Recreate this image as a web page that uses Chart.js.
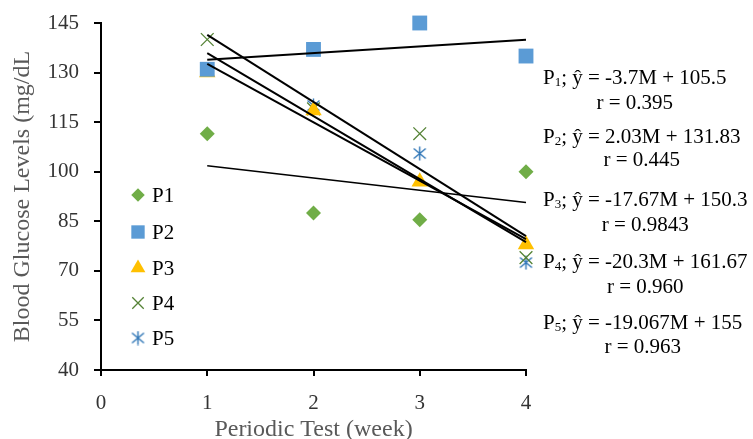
<!DOCTYPE html>
<html><head><meta charset="utf-8">
<script src="https://cdn.jsdelivr.net/npm/chart.js@4/dist/chart.umd.min.js"></script>
<style>html,body{margin:0;padding:0;background:#fff}#wrap{width:753px;height:439px}</style>
</head><body><div id="wrap"><canvas id="c" width="753" height="439"></canvas></div>
<script>
// ---- data ----
const weeks = [1, 2, 3, 4];
const seriesNames = ['P1', 'P2', 'P3', 'P4', 'P5'];
const p1 = [111.5, 87.5, 85.5, 100];
const p2 = [131, 137, 145, 135];
const p3 = [130, 118.5, 97, 78];
const p4 = [140, 119, 111.5, 74];
const p5 = [131, 120, 105.5, 72.5];
const trendWeeks = [1, 4];
const trend1 = [101.8, 90.7];
const trend2 = [133.9, 139.9];
const trend3 = [132.6, 79.6];
const trend4 = [141.4, 80.5];
const trend5 = [135.9, 78.7];
const equations = ['; ŷ = -3.7M + 105.5', '; ŷ = 2.03M + 131.83', '; ŷ = -17.67M + 150.3', '; ŷ = -20.3M + 161.67', '; ŷ = -19.067M + 155'];
const rValues = ['r = 0.395', 'r = 0.445', 'r = 0.9843', 'r = 0.960', 'r = 0.963'];
const xTickValues = [0, 1, 2, 3, 4];
const yTickValues = [40, 55, 70, 85, 100, 115, 130, 145];
const xTitle = 'Periodic Test (week)';
const yTitle = 'Blood Glucose Levels (mg/dL';

// ---- styles ----
const SERIF = '"Liberation Serif", "Times New Roman", serif';
function makeAsterisk(color) {
  const c = document.createElement('canvas'); c.width = 15; c.height = 15;
  const g = c.getContext('2d'); g.strokeStyle = color; g.lineWidth = 1.4;
  g.beginPath();
  g.moveTo(7.5, 0.5); g.lineTo(7.5, 14.5);
  g.moveTo(1.5, 2.5); g.lineTo(13.5, 12.5);
  g.moveTo(1.5, 12.5); g.lineTo(13.5, 2.5);
  g.stroke();
  return c;
}
const markerStyles = [
  {pointStyle: 'rectRot', radius: 7.5, bg: '#70AD47', border: '#70AD47', bw: 0},
  {pointStyle: 'rect', radius: 10.5, bg: '#5B9BD5', border: '#5B9BD5', bw: 0},
  {pointStyle: 'triangle', radius: 9.5, bg: '#FFC000', border: '#FFC000', bw: 0},
  {pointStyle: 'crossRot', radius: 9, bg: '#548235', border: '#548235', bw: 1.3},
  {pointStyle: makeAsterisk('#2E75B6'), radius: 7.5, bg: '#2E75B6', border: '#2E75B6', bw: 1.3}
];
const seriesValues = [p1, p2, p3, p4, p5];
const trendValues = [trend1, trend2, trend3, trend4, trend5];

const datasets = [];
trendValues.forEach((t, i) => {
  datasets.push({
    label: seriesNames[i] + ' trend', isTrend: true, order: 0,
    data: trendWeeks.map((x, k) => ({x: x, y: t[k]})),
    showLine: true, borderColor: '#000', borderWidth: i === 0 ? 1.6 : 2,
    pointRadius: 0, pointHoverRadius: 0, clip: false
  });
});
seriesValues.forEach((vals, i) => {
  const m = markerStyles[i];
  datasets.push({
    label: seriesNames[i], order: 1,
    data: weeks.map((x, k) => ({x: x, y: vals[k]})),
    showLine: false, pointStyle: m.pointStyle, pointRadius: m.radius, pointHoverRadius: m.radius,
    backgroundColor: m.bg, borderColor: m.border, pointBorderWidth: m.bw, borderWidth: m.bw,
    clip: false
  });
});

const overlay = {
  id: 'overlay',
  afterDraw(chart) {
    const ctx = chart.ctx;
    ctx.save();
    // legend inside plot
    const legY = [195, 232, 268, 303, 338];
    chart.data.datasets.filter(d => !d.isTrend).forEach((d, i) => {
      ctx.fillStyle = d.backgroundColor; ctx.strokeStyle = d.borderColor; ctx.lineWidth = d.pointBorderWidth;
      Chart.helpers.drawPoint(ctx, {pointStyle: d.pointStyle, radius: d.pointRadius * 0.9, rotation: 0, borderWidth: d.pointBorderWidth}, 138, legY[i]);
      ctx.fillStyle = '#000'; ctx.font = '21px ' + SERIF; ctx.textAlign = 'left'; ctx.textBaseline = 'middle';
      ctx.fillText(d.label, 152, legY[i] + 1);
    });
    // equations
    const eqY = [78, 137, 200, 262, 323], rY = [103, 160, 225, 287, 347];
    ctx.fillStyle = '#000'; ctx.textBaseline = 'middle';
    seriesNames.forEach((n, i) => {
      let x = 543;
      ctx.textAlign = 'left';
      ctx.font = '21px ' + SERIF; ctx.fillText('P', x, eqY[i]); x += ctx.measureText('P').width;
      ctx.font = '13px ' + SERIF; ctx.fillText(n.slice(1), x, eqY[i] + 5); x += ctx.measureText(n.slice(1)).width;
      ctx.font = '21px ' + SERIF; ctx.fillText(equations[i], x, eqY[i]); x += ctx.measureText(equations[i]).width;
      ctx.textAlign = 'center';
      ctx.fillText(rValues[i], (543 + x) / 2, rY[i]);
    });
    ctx.restore();
  }
};

new Chart(document.getElementById('c'), {
  type: 'scatter',
  data: {datasets: datasets},
  plugins: [overlay],
  options: {
    responsive: false, animation: false, devicePixelRatio: 1,
    layout: {autoPadding: false, padding: {top: 23, right: 227, left: 0, bottom: 0}},
    plugins: {legend: {display: false}, tooltip: {enabled: false}},
    scales: {
      x: {
        type: 'linear', min: 0, max: 4,
        afterFit: s => { s.height = 69; },
        afterBuildTicks: s => { s.ticks = xTickValues.map(v => ({value: v})); },
        ticks: {font: {family: SERIF, size: 21}, color: '#333333', padding: 15},
        grid: {drawOnChartArea: false, drawTicks: true, tickLength: 6, color: '#000', lineWidth: 2},
        border: {display: true, color: '#000', width: 2},
        title: {display: true, text: xTitle, color: '#595959', font: {family: SERIF, size: 24, lineHeight: 0.75}, padding: {top: 0, bottom: 0}}
      },
      y: {
        type: 'linear', min: 40, max: 145,
        afterFit: s => { s.width = 101; s.paddingTop = 8; s.paddingBottom = 8; },
        afterBuildTicks: s => { s.ticks = yTickValues.map(v => ({value: v})); },
        ticks: {font: {family: SERIF, size: 21}, color: '#333333', padding: 15},
        grid: {drawOnChartArea: false, drawTicks: true, tickLength: 7, color: '#000', lineWidth: 2},
        border: {display: true, color: '#000', width: 2},
        title: {display: true, text: yTitle, color: '#595959', font: {family: SERIF, size: 24, lineHeight: 1}, padding: {top: 11, bottom: 0}}
      }
    }
  }
});
</script></body></html>
